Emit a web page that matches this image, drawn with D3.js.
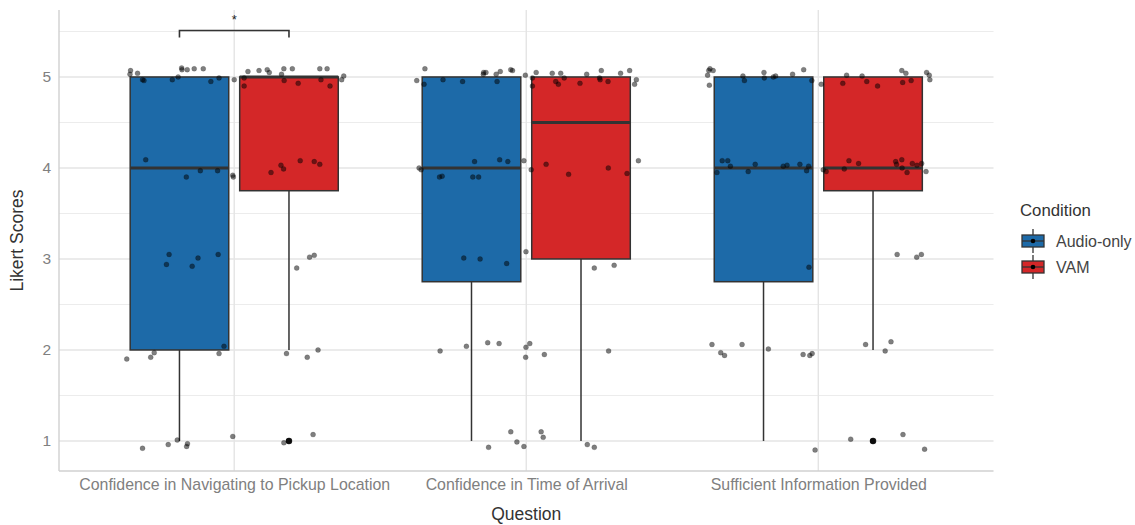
<!DOCTYPE html>
<html>
<head>
<meta charset="utf-8">
<script src="https://cdn.jsdelivr.net/npm/d3@7"></script>
<style>
  body { margin: 0; background: #fff; }
  svg { display: block; font-family: "Liberation Sans", Arial, Helvetica, sans-serif; }
</style>
</head>
<body>
<svg id="chart" width="1135" height="525"></svg>
<script>
// ---------------- DATA ----------------
const questions = [
  "Confidence in Navigating to Pickup Location",
  "Confidence in Time of Arrival",
  "Sufficient Information Provided"
];
const conditions = ["Audio-only", "VAM"];
const conditionColors = ["#1d6aa8", "#d42728"];

// box stats per question: [lowerWhisker, q1, median, q3, upperWhisker]
const audioStats = [[1, 2, 4, 5, 5], [1, 2.75, 4, 5, 5], [1, 2.75, 4, 5, 5]];
const vamStats   = [[2, 3.75, 5, 5, 5], [1, 3, 4.5, 5, 5], [2, 3.75, 4, 5, 5]];
const audioOutliers = [[], [], []];
const vamOutliers   = [[1], [], [1]];

// jittered raw responses: [x offset from question centre (in category steps), jittered score]
const jitterQ1 = [
  [-0.357,5.03],[-0.355,5.07],[-0.331,5.04],[-0.314,4.97],[-0.309,4.96],[-0.212,4.97],[-0.192,5.00],
  [-0.180,5.10],[-0.179,5.08],[-0.161,5.08],[-0.137,5.09],[-0.106,5.09],[-0.080,4.95],[-0.052,4.99],
  [0.000,4.97],[0.034,4.99],[0.034,4.90],[0.047,5.06],[0.085,5.07],[0.113,5.08],[0.120,5.05],
  [0.162,5.03],[0.170,5.09],[0.171,4.96],[0.199,5.09],[0.219,4.93],[0.293,5.09],[0.318,5.09],
  [0.297,4.97],[0.328,4.90],[0.368,4.97],[0.375,5.01],
  [-0.303,4.09],[-0.164,3.90],[-0.116,3.97],[-0.057,3.97],[-0.005,3.92],[-0.003,3.90],
  [0.126,3.95],[0.160,4.03],[0.169,3.99],[0.226,4.08],[0.274,4.07],[0.293,4.04],
  [-0.232,2.94],[-0.223,3.05],[-0.144,2.92],[-0.124,3.01],[-0.055,3.05],[0.214,2.90],[0.258,3.02],[0.274,3.04],
  [-0.368,1.90],[-0.286,1.92],[-0.274,1.97],[-0.052,1.96],[-0.035,2.04],[0.179,1.96],[0.250,1.92],[0.287,2.00],
  [-0.314,0.92],[-0.226,0.96],[-0.195,1.01],[-0.163,0.94],[-0.160,0.97],[-0.005,1.05],[0.170,0.98],[0.186,1.00],[0.270,1.07]
];
const jitterQ2 = [
  [-0.375,4.96],[-0.350,4.92],[-0.347,5.09],[-0.285,4.97],[-0.218,4.95],[-0.147,5.03],[-0.146,5.05],
  [-0.138,5.05],[-0.103,5.03],[-0.100,4.95],[-0.089,5.06],[-0.053,5.08],[-0.047,5.07],[-0.003,5.02],
  [0.021,4.99],[0.021,4.90],[0.034,5.05],[0.089,5.04],[0.101,4.95],[0.110,4.92],[0.118,5.04],
  [0.130,4.99],[0.184,4.93],[0.207,5.03],[0.251,4.99],[0.253,4.97],[0.257,5.07],[0.280,4.95],
  [0.323,5.04],[0.354,5.07],[0.371,4.92],[0.377,4.97],
  [-0.367,4.00],[-0.360,3.98],[-0.297,3.90],[-0.288,3.91],[-0.183,3.90],[-0.163,3.90],[-0.177,4.07],
  [-0.091,4.09],[-0.063,4.07],[-0.008,4.08],[0.017,3.98],[0.068,4.04],[0.145,3.93],[0.281,4.00],
  [0.345,3.94],[0.384,4.08],
  [-0.214,3.01],[-0.158,3.00],[-0.067,2.95],[-0.001,3.08],[0.233,2.90],[0.301,2.93],
  [-0.295,1.99],[-0.205,2.04],[-0.132,2.08],[-0.093,2.07],[-0.001,2.03],[0.012,2.07],[-0.002,1.92],
  [0.062,1.95],[0.282,1.99],
  [-0.129,0.93],[-0.053,1.10],[-0.032,0.99],[-0.008,0.94],[0.051,1.10],[0.058,1.04],[0.209,0.96],[0.233,0.93]
];
const jitterQ3 = [
  [-0.379,5.02],[-0.375,5.07],[-0.371,5.09],[-0.360,5.07],[-0.373,4.91],[-0.258,5.01],[-0.253,4.96],
  [-0.186,5.05],[-0.185,4.99],[-0.154,5.00],[-0.146,5.01],[-0.088,5.03],[-0.050,5.08],[-0.022,4.96],
  [0.010,4.92],[0.084,4.93],[0.097,5.02],[0.150,5.01],[0.166,4.95],[0.203,4.90],[0.286,5.07],
  [0.300,5.04],[0.289,4.94],[0.318,4.96],[0.371,5.05],[0.380,5.02],[0.382,4.97],
  [-0.347,3.95],[-0.329,4.08],[-0.310,4.08],[-0.301,4.02],[-0.240,3.96],[-0.216,4.04],[-0.120,4.02],
  [-0.107,4.03],[-0.063,4.04],[-0.040,3.97],[-0.033,4.02],[0.017,3.98],[0.027,3.96],[0.089,3.99],
  [0.105,4.08],[0.138,4.05],[0.265,4.07],[0.268,4.04],[0.286,4.09],[0.287,4.00],[0.304,3.95],
  [0.322,4.05],[0.338,4.03],[0.354,4.05],[0.369,3.96],
  [-0.032,2.91],[0.270,3.05],[0.337,3.02],[0.353,3.05],
  [-0.364,2.06],[-0.334,1.97],[-0.321,1.94],[-0.261,2.06],[-0.171,2.01],[-0.052,1.95],[-0.029,1.94],
  [-0.021,1.96],[0.162,2.06],[0.229,1.99],[0.249,2.09],
  [-0.011,0.90],[0.111,1.02],[0.186,1.00],[0.290,1.07],[0.364,0.91]
];
const jitterPoints = [jitterQ1, jitterQ2, jitterQ3];

const yTicks = [1, 2, 3, 4, 5];
const yMinorTicks = [1.5, 2.5, 3.5, 4.5, 5.5];

// significance annotation (question index, label, bracket level)
const sigQuestion = 0;
const sigLabel = "*";
const sigLevel = 5.5;

// ---------------- LAYOUT ----------------
const svg = d3.select("#chart");
const panel = { left: 59, right: 993.5, top: 10, bottom: 471 };

const x = d3.scalePoint().domain(questions).range([panel.left, panel.right]).padding(0.6);
const step = x.step();
const y = d3.scaleLinear().domain([0.67, 5.736]).range([panel.bottom, panel.top]);

const dodge = 0.1875 * step;
const boxW = 0.3375 * step;

// grid
const g = svg.append("g");
g.selectAll(".minor").data(yMinorTicks).join("line")
  .attr("x1", panel.left).attr("x2", panel.right)
  .attr("y1", d => y(d)).attr("y2", d => y(d))
  .attr("stroke", "#ececec").attr("stroke-width", 1.1);
g.selectAll(".major").data(yTicks).join("line")
  .attr("x1", panel.left).attr("x2", panel.right)
  .attr("y1", d => y(d)).attr("y2", d => y(d))
  .attr("stroke", "#e4e4e4").attr("stroke-width", 1.4);
g.selectAll(".vgrid").data(questions).join("line")
  .attr("x1", d => x(d)).attr("x2", d => x(d))
  .attr("y1", panel.top).attr("y2", panel.bottom)
  .attr("stroke", "#e4e4e4").attr("stroke-width", 1.4);

// axis lines
g.append("line").attr("x1", panel.left).attr("x2", panel.left)
  .attr("y1", panel.top).attr("y2", panel.bottom).attr("stroke", "#d0d0d0").attr("stroke-width", 1.4);
g.append("line").attr("x1", panel.left).attr("x2", panel.right)
  .attr("y1", panel.bottom).attr("y2", panel.bottom).attr("stroke", "#d0d0d0").attr("stroke-width", 1.4);

// y axis (using d3 axis, restyled)
const yAxis = svg.append("g").attr("transform", `translate(${panel.left},0)`)
  .call(d3.axisLeft(y).tickValues(yTicks).tickSize(0).tickPadding(8).tickFormat(d3.format("d")));
yAxis.select(".domain").remove();
yAxis.selectAll("text").attr("fill", "#808080").style("font-size", "15.5px");

// x axis
const xAxis = svg.append("g").attr("transform", `translate(0,${panel.bottom})`)
  .call(d3.axisBottom(x).tickSize(0).tickPadding(8));
xAxis.select(".domain").remove();
xAxis.selectAll("text").attr("fill", "#808080").style("font-size", "15.9px");

// boxes
const statsAll = [audioStats, vamStats];
const outAll = [audioOutliers, vamOutliers];
const boxes = svg.append("g");
questions.forEach((q, qi) => {
  conditions.forEach((c, ci) => {
    const s = statsAll[ci][qi];
    const cx = x(q) + (ci === 0 ? -dodge : dodge);
    boxes.append("line").attr("x1", cx).attr("x2", cx)
      .attr("y1", y(s[0])).attr("y2", y(s[1])).attr("stroke", "#333").attr("stroke-width", 1.5);
    boxes.append("line").attr("x1", cx).attr("x2", cx)
      .attr("y1", y(s[3])).attr("y2", y(s[4])).attr("stroke", "#333").attr("stroke-width", 1.5);
    boxes.append("rect").attr("x", cx - boxW / 2).attr("width", boxW)
      .attr("y", y(s[3])).attr("height", y(s[1]) - y(s[3]))
      .attr("fill", conditionColors[ci]).attr("stroke", "#333").attr("stroke-width", 1.5);
    boxes.append("line").attr("x1", cx - boxW / 2).attr("x2", cx + boxW / 2)
      .attr("y1", y(s[2])).attr("y2", y(s[2])).attr("stroke", "#333").attr("stroke-width", 3);
    outAll[ci][qi].forEach(v => {
      boxes.append("circle").attr("cx", cx).attr("cy", y(v)).attr("r", 3.2).attr("fill", "#1a1a1a");
    });
  });
});

// jittered points
const pts = svg.append("g");
questions.forEach((q, qi) => {
  pts.selectAll(null).data(jitterPoints[qi]).join("circle")
    .attr("cx", d => x(q) + d[0] * step)
    .attr("cy", d => y(d[1]))
    .attr("r", 2.5)
    .attr("fill", "#000").attr("fill-opacity", 0.5)
    .attr("stroke", "#000").attr("stroke-opacity", 0.25).attr("stroke-width", 0.6);
});

// significance bracket
const bx1 = x(questions[sigQuestion]) - dodge;
const bx2 = x(questions[sigQuestion]) + dodge;
const by = y(sigLevel) - 1;
svg.append("path")
  .attr("d", `M${bx1},${by + 7}V${by}H${bx2}V${by + 7}`)
  .attr("fill", "none").attr("stroke", "#333").attr("stroke-width", 1.6);
svg.append("text").attr("x", (bx1 + bx2) / 2).attr("y", by - 6)
  .attr("text-anchor", "middle").attr("fill", "#222").style("font-size", "13px").text(sigLabel);

// axis titles
svg.append("text").attr("x", x(questions[1])).attr("y", 520)
  .attr("text-anchor", "middle").attr("fill", "#333").style("font-size", "17.5px").text("Question");
svg.append("text").attr("transform", `translate(23,${(panel.top + panel.bottom) / 2}) rotate(-90)`)
  .attr("text-anchor", "middle").attr("fill", "#333").style("font-size", "17.5px").text("Likert Scores");

// legend
const lg = svg.append("g");
lg.append("text").attr("x", 1020).attr("y", 216).attr("fill", "#333")
  .style("font-size", "16.8px").text("Condition");
const keyY = [241, 267];
conditions.forEach((c, ci) => {
  const cy = keyY[ci];
  lg.append("line").attr("x1", 1033).attr("x2", 1033).attr("y1", cy - 12).attr("y2", cy + 12)
    .attr("stroke", "#333").attr("stroke-width", 1.3);
  lg.append("rect").attr("x", 1022).attr("y", cy - 6).attr("width", 22).attr("height", 12)
    .attr("fill", conditionColors[ci]).attr("stroke", "#333").attr("stroke-width", 1.3);
  lg.append("line").attr("x1", 1022).attr("x2", 1044).attr("y1", cy).attr("y2", cy)
    .attr("stroke", "#333").attr("stroke-width", 1.3);
  lg.append("circle").attr("cx", 1033).attr("cy", cy).attr("r", 2.3).attr("fill", "#000");
  lg.append("text").attr("x", 1056).attr("y", cy + 5.5).attr("fill", "#444")
    .style("font-size", "16px").text(c);
});
</script>
</body>
</html>
